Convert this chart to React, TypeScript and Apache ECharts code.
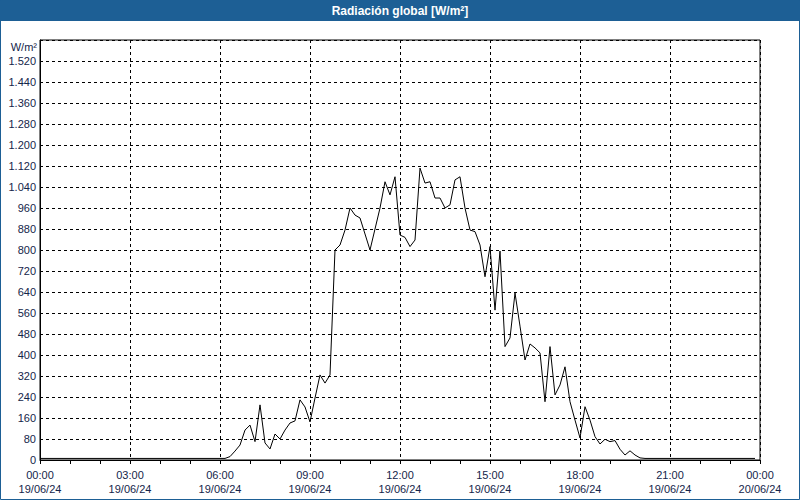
import React, { useEffect, useRef } from "react";
import * as echarts from "echarts";

const titleText = "Radiación global [W/m²]";
const yUnit = "W/m²";
// sampling step in minutes (one reading every 10 minutes, 00:00 .. 23:50)
const stepMinutes = 10;
const radiation: number[] = [
  // 00:00 - 05:50
  6, 6, 6, 6, 6, 6, 6, 6, 6, 6, 6, 6, 6, 6, 6, 6, 6, 6,
  6, 6, 6, 6, 6, 6, 6, 6, 6, 6, 6, 6, 6, 6, 6, 6, 6, 6,
  // 06:00 - 08:50
  6, 6, 13, 34, 57, 114, 133, 70, 210, 65, 42, 99, 80, 114, 141, 149, 229, 202,
  // 09:00 - 11:50
  145, 236, 324, 293, 324, 800, 819, 876, 960, 933, 922, 861, 800, 880, 960, 1060, 1010, 1079,
  // 12:00 - 14:50
  857, 848, 813, 838, 1112, 1055, 1060, 998, 998, 960, 972, 1067, 1079, 960, 876, 870, 819, 698,
  // 15:00 - 17:50
  813, 571, 796, 432, 465, 636, 510, 381, 442, 427, 408, 222, 432, 248, 286, 355, 222, 152,
  // 18:00 - 20:50
  84, 203, 152, 89, 61, 79, 70, 74, 41, 19, 35, 19, 8, 6, 6, 6, 6, 6,
  // 21:00 - 23:50
  6, 6, 6, 6, 6, 6, 6, 6, 6, 6, 6, 6, 6, 6, 6, 6, 6, 6,
];
const xTickLabels = [
  "00:00\n19/06/24",
  "03:00\n19/06/24",
  "06:00\n19/06/24",
  "09:00\n19/06/24",
  "12:00\n19/06/24",
  "15:00\n19/06/24",
  "18:00\n19/06/24",
  "21:00\n19/06/24",
  "00:00\n20/06/24",
];

const fmtY = (v: number) => {
  if (v >= 1600) return "";
  if (v >= 1000) return `${Math.floor(v / 1000)}.${String(v % 1000).padStart(3, "0")}`;
  return String(v);
};

export default function App() {
  const ref = useRef<HTMLDivElement>(null);
  useEffect(() => {
    if (!ref.current) return;
    const chart = echarts.init(ref.current, null, { renderer: "svg" });
    const blue = "#1d5f95";
    const textColor = "#14254a";
    const font = "'Liberation Sans', Arial, sans-serif";
    chart.setOption({
      animation: false,
      backgroundColor: "#ffffff",
      graphic: [
        { type: "rect", shape: { x: 0, y: 0, width: 800, height: 21 }, style: { fill: blue }, z: 10 },
        {
          type: "rect",
          shape: { x: 0.5, y: 0.5, width: 799, height: 499 },
          style: { fill: "none", stroke: blue, lineWidth: 1 },
          z: 10,
        },
        {
          type: "text",
          x: 400,
          y: 11,
          style: {
            text: titleText,
            fill: "#ffffff",
            font: "bold 12px 'Liberation Sans Narrow', 'Liberation Sans', sans-serif",
            textAlign: "center",
            textVerticalAlign: "middle",
          },
          z: 11,
        },
        {
          type: "text",
          x: 37,
          y: 47,
          style: {
            text: yUnit,
            fill: textColor,
            font: `11px ${font}`,
            textAlign: "right",
            textVerticalAlign: "middle",
          },
        },
      ],
      grid: {
        left: 40,
        right: 40,
        top: 40,
        bottom: 40,
        show: true,
        borderColor: "#000",
        borderWidth: 1,
        backgroundColor: "transparent",
      },
      xAxis: {
        type: "value",
        min: 0,
        max: 1440,
        interval: 180,
        axisLine: { show: true, lineStyle: { color: "#000", width: 1 } },
        axisTick: { show: true, length: 4, lineStyle: { color: "#000" } },
        minorTick: { show: true, splitNumber: 3, length: 4, lineStyle: { color: "#000" } },
        splitLine: { show: true, lineStyle: { color: "#000", type: [3, 3], width: 1 } },
        axisLabel: {
          color: textColor,
          fontFamily: font,
          fontSize: 11,
          lineHeight: 14,
          margin: 8,
          showMinLabel: true,
          showMaxLabel: true,
          formatter: (v: number) => xTickLabels[Math.round(v / 180)] ?? "",
        },
      },
      yAxis: {
        type: "value",
        min: 0,
        max: 1600,
        interval: 80,
        axisLine: { show: true, lineStyle: { color: "#000", width: 1 } },
        axisTick: { show: false },
        splitLine: { show: true, lineStyle: { color: "#000", type: [3, 3], width: 1 } },
        axisLabel: {
          color: textColor,
          fontFamily: font,
          fontSize: 11,
          margin: 4,
          formatter: fmtY,
        },
      },
      series: [
        {
          type: "line",
          data: radiation.map((v, i) => [i * stepMinutes, v]),
          showSymbol: false,
          symbol: "none",
          lineStyle: { color: "#000", width: 1 },
          itemStyle: { color: "#000" },
          z: 5,
        },
      ],
    });
    return () => chart.dispose();
  }, []);
  return (
    <div
      ref={ref}
      style={{ position: "fixed", left: 0, top: 0, width: 800, height: 500 }}
    />
  );
}
